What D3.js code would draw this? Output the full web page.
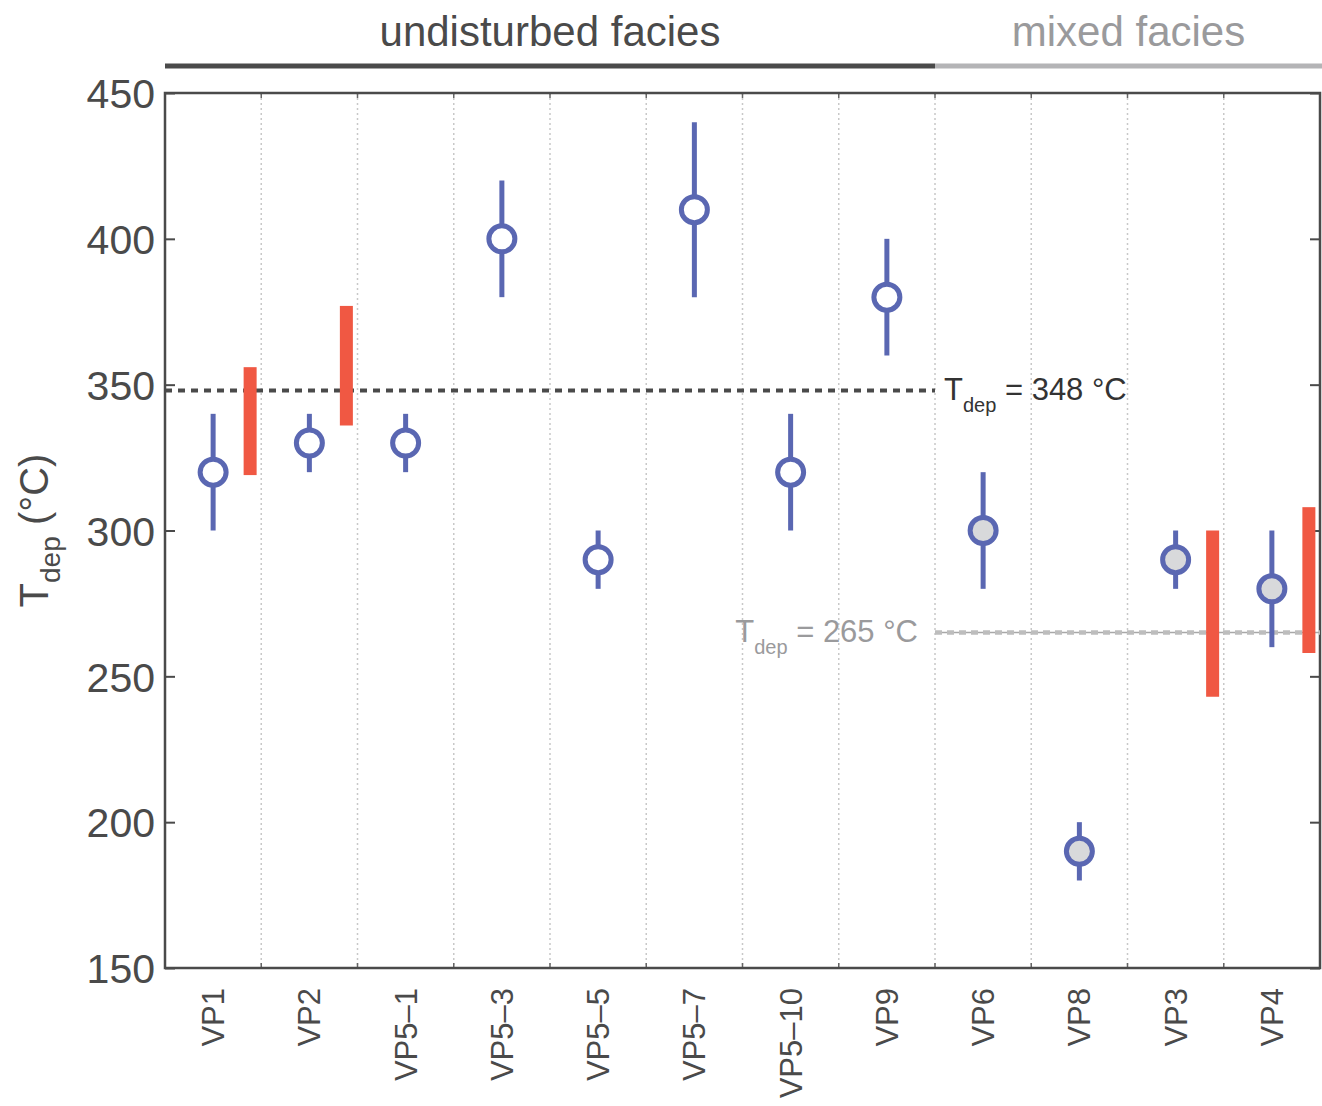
<!DOCTYPE html>
<html>
<head>
<meta charset="utf-8">
<script src="https://cdn.jsdelivr.net/npm/d3@7"></script>
<style>
  body { margin: 0; background: #fff; }
  text { font-family: "Liberation Sans", Arial, sans-serif; }
</style>
</head>
<body>
<div id="chart"></div>
<script>
// samples, in plot order
var samples = ["VP1", "VP2", "VP5\u20131", "VP5\u20133", "VP5\u20135", "VP5\u20137", "VP5\u201310", "VP9", "VP6", "VP8", "VP3", "VP4"];
var tdep = [320, 330, 330, 400, 290, 410, 320, 380, 300, 190, 290, 280];
var tdepLow = [300, 320, 320, 380, 280, 380, 300, 360, 280, 180, 280, 260];
var tdepHigh = [340, 340, 340, 420, 300, 440, 340, 400, 320, 200, 300, 300];
var facies = ["u", "u", "u", "u", "u", "u", "u", "u", "m", "m", "m", "m"];
// red ranges (other estimate), only for some samples
var redSamples = ["VP1", "VP2", "VP3", "VP4"];
var redLow = [319, 336, 243, 258];
var redHigh = [356, 377, 300, 308];
var yTicks = [150, 200, 250, 300, 350, 400, 450];
var meanUndisturbed = 348;
var meanMixed = 265;

var W = 1322, H = 1106;
var margin = {top: 93, right: 2, bottom: 138, left: 165};

var svg = d3.select("#chart").append("svg")
    .attr("width", W).attr("height", H);

var x = d3.scaleBand()
    .domain(samples)
    .range([margin.left, W - margin.right])
    .padding(0);

var y = d3.scaleLinear()
    .domain([150, 450])
    .range([H - margin.bottom, margin.top]);

var dark = "#4a4a4a", grey = "#9a9a9c", blue = "#5a67b2", red = "#f05843";
var bw = x.bandwidth();
var splitX = x("VP6");

// dotted separators between samples
svg.append("g").selectAll("line")
    .data(samples.slice(1))
    .enter().append("line")
    .attr("x1", function(d) { return x(d); })
    .attr("x2", function(d) { return x(d); })
    .attr("y1", y(450)).attr("y2", y(150))
    .attr("stroke", "#c8c8c8")
    .attr("stroke-width", 1.5)
    .attr("stroke-dasharray", "2,3");

// small dark ticks at separators (top & bottom)
samples.slice(1).forEach(function(d) {
    [[y(450), y(450) + 5], [y(150) - 5, y(150)]].forEach(function(p) {
        svg.append("line")
            .attr("x1", x(d)).attr("x2", x(d))
            .attr("y1", p[0]).attr("y2", p[1])
            .attr("stroke", "#666").attr("stroke-width", 1.5);
    });
});

// y axis
var yAxis = svg.append("g")
    .attr("transform", "translate(" + margin.left + ",0)")
    .call(d3.axisLeft(y).tickValues(yTicks).tickSize(-10).tickPadding(10));
yAxis.select(".domain").remove();
yAxis.selectAll("line").attr("stroke", dark).attr("stroke-width", 2);
yAxis.selectAll("text")
    .attr("font-size", 41).attr("fill", dark).attr("dy", "0.36em");

var yAxisR = svg.append("g")
    .attr("transform", "translate(" + (W - margin.right) + ",0)")
    .call(d3.axisRight(y).tickValues(yTicks).tickSize(-10).tickFormat(""));
yAxisR.select(".domain").remove();
yAxisR.selectAll("line").attr("stroke", dark).attr("stroke-width", 2);

// frame
svg.append("rect")
    .attr("x", margin.left).attr("y", margin.top)
    .attr("width", W - margin.right - margin.left)
    .attr("height", y(150) - y(450))
    .attr("fill", "none")
    .attr("stroke", dark).attr("stroke-width", 2.5);

// x axis labels
var xAxis = svg.append("g")
    .attr("transform", "translate(0," + (H - margin.bottom) + ")")
    .call(d3.axisBottom(x).tickSize(0).tickPadding(0));
xAxis.select(".domain").remove();
xAxis.selectAll("text")
    .attr("font-size", 31).attr("fill", dark)
    .attr("text-anchor", "end")
    .attr("dy", null)
    .attr("transform", "translate(11,20) rotate(-90)");

// mean lines
svg.append("line")
    .attr("x1", margin.left).attr("x2", splitX)
    .attr("y1", y(meanUndisturbed)).attr("y2", y(meanUndisturbed))
    .attr("stroke", dark).attr("stroke-width", 4)
    .attr("stroke-dasharray", "7,6");

svg.append("line")
    .attr("x1", splitX).attr("x2", W - margin.right)
    .attr("y1", y(meanMixed)).attr("y2", y(meanMixed))
    .attr("stroke", "#a8a8a8").attr("stroke-width", 1.5);
svg.append("line")
    .attr("x1", splitX).attr("x2", W - margin.right)
    .attr("y1", y(meanMixed)).attr("y2", y(meanMixed))
    .attr("stroke", "#bdbdbd").attr("stroke-width", 4.5)
    .attr("stroke-dasharray", "7,5");

function meanLabel(xp, yp, val, col, anchor) {
    var t = svg.append("text")
        .attr("x", xp).attr("y", yp + 9)
        .attr("font-size", 31).attr("fill", col)
        .attr("text-anchor", anchor);
    t.append("tspan").text("T");
    t.append("tspan").text("dep").attr("font-size", 20).attr("dy", 12);
    t.append("tspan").text(" = " + val + " \u00B0C").attr("dy", -12);
}
meanLabel(splitX + 9, y(meanUndisturbed), meanUndisturbed, "#333", "start");
meanLabel(splitX - 17, y(meanMixed), meanMixed, grey, "end");

// red ranges
svg.append("g").selectAll("rect")
    .data(redSamples)
    .enter().append("rect")
    .attr("x", function(d) { return x(d) + bw / 2 + 37 - 6.5; })
    .attr("y", function(d, i) { return y(redHigh[i]); })
    .attr("width", 13)
    .attr("height", function(d, i) { return y(redLow[i]) - y(redHigh[i]); })
    .attr("fill", red);

// error bars
svg.append("g").selectAll("line")
    .data(samples)
    .enter().append("line")
    .attr("x1", function(d) { return x(d) + bw / 2; })
    .attr("x2", function(d) { return x(d) + bw / 2; })
    .attr("y1", function(d, i) { return y(tdepLow[i]); })
    .attr("y2", function(d, i) { return y(tdepHigh[i]); })
    .attr("stroke", blue).attr("stroke-width", 5);

// points
svg.append("g").selectAll("circle")
    .data(samples)
    .enter().append("circle")
    .attr("cx", function(d) { return x(d) + bw / 2; })
    .attr("cy", function(d, i) { return y(tdep[i]); })
    .attr("r", 13)
    .attr("fill", function(d, i) { return facies[i] === "u" ? "#fff" : "#d8d9db"; })
    .attr("stroke", blue).attr("stroke-width", 5);

// facies header
svg.append("line")
    .attr("x1", margin.left).attr("x2", splitX)
    .attr("y1", 66).attr("y2", 66)
    .attr("stroke", dark).attr("stroke-width", 5);
svg.append("line")
    .attr("x1", splitX).attr("x2", W)
    .attr("y1", 66).attr("y2", 66)
    .attr("stroke", "#b4b4b6").attr("stroke-width", 5);
svg.append("text")
    .attr("x", (margin.left + splitX) / 2).attr("y", 46)
    .attr("text-anchor", "middle").attr("font-size", 42).attr("fill", dark)
    .text("undisturbed facies");
svg.append("text")
    .attr("x", (splitX + W) / 2).attr("y", 46)
    .attr("text-anchor", "middle").attr("font-size", 42).attr("fill", grey)
    .text("mixed facies");

// y label
var yl = svg.append("text")
    .attr("transform", "translate(48," + ((margin.top + H - margin.bottom) / 2) + ") rotate(-90)")
    .attr("text-anchor", "middle").attr("font-size", 40).attr("fill", dark);
yl.append("tspan").text("T");
yl.append("tspan").text("dep").attr("font-size", 28).attr("dy", 12);
yl.append("tspan").text(" (\u00B0C)").attr("dy", -12);
</script>
</body>
</html>
